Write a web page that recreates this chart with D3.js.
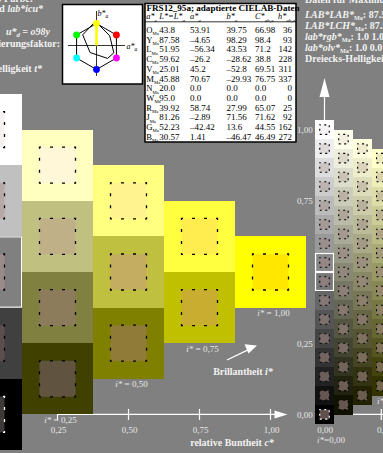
<!DOCTYPE html>
<html><head><meta charset="utf-8">
<script src="https://cdn.jsdelivr.net/npm/d3@7/dist/d3.min.js"></script>
<style>
html,body{margin:0;padding:0;background:#808080;overflow:hidden}
svg{display:block}
text{font-family:"Liberation Serif","Times New Roman",serif}
</style></head><body>
<svg id="chart" width="383" height="453"></svg>
<script>
// ---- chart data ----
const chromaTicks = [0.25, 0.5, 0.75, 1.0];
const chromaTickLabels = ["0,25", "0,50", "0,75", "1,00"];
const brillLabels = ["0,25", "0,50", "0,75", "1,00"];
const lightTicks = [0, 0.25, 0.75, 1.0];
const lightTickLabels = ["0,00", "0,25", "0,75", "1,00"];
const smallTicks = [0, 0.2];
const smallTickLabels = ["0,00", "0,20"];

// 5-step triangle, one array per chroma column, light to dark
const cellColors = [
  ["#ffffff", "#c0c0c0", "#808080", "#404040", "#000000"],
  ["#ffffc0", "#c0c080", "#808040", "#404000"],
  ["#ffff80", "#c0c040", "#808000"],
  ["#ffff40", "#c0c000"],
  ["#ffff00"]
];
const innerColors = [
  ["#f6f2f2", "#b8a8a8", "#9a8a8a", "#5c4e4e", "#3e3a3a"],
  ["#fff7d8", "#c0b088", "#8c7c5c", "#605440"],
  ["#fff390", "#c4ad60", "#907c38"],
  ["#ffed50", "#c8ad30"],
  ["#ffe700"]
];

// adapted CIELAB table
const tableTitle = "FRS12_95a; adaptierte CIELAB-Daten";
const tableNames = ["O", "Y", "L", "C", "V", "M", "N", "W", "R", "J", "G", "B"];
const tableL = [43.8, 87.58, 51.95, 59.62, 25.01, 45.88, 20.0, 95.0, 39.92, 81.26, 52.23, 30.57];
const tableA = [53.91, -4.65, -56.34, -26.2, 45.2, 70.67, 0, 0, 58.74, -2.89, -42.42, 1.41];
const tableB = [39.75, 98.29, 43.53, -28.62, -52.8, -29.93, 0, 0, 27.99, 71.56, 13.6, -46.47];
const tableC = [66.98, 98.4, 71.2, 38.8, 69.51, 76.75, 0, 0, 65.07, 71.62, 44.55, 46.49];
const tableH = [36, 93, 142, 228, 311, 337, 0, 0, 25, 92, 162, 272];

// hue circle icon
const iconAngles = [90, 30, -30, -90, 210, 150];
const iconColors = ["#ffff00", "#ff0000", "#ff00ff", "#0000ff", "#00ffff", "#00ff00"];

const svg = d3.select("#chart");
const TXT = "#f2f2f2";

function rich(sel, parts, size, subScale) {
  let shifted = 0;
  parts.forEach(p => {
    const ts = sel.append("tspan").text(p.t);
    if (p.i) ts.attr("font-style", "italic");
    if (p.b) ts.attr("font-weight", "bold");
    if (p.sub) { ts.attr("font-size", size * (subScale || 0.68)).attr("dy", 2.3 - shifted); shifted = 2.3; }
    else if (shifted) { ts.attr("dy", -shifted); shifted = 0; }
  });
  return sel;
}
function label(x, y, parts, size, anchor, fill, weight, subScale) {
  const t = svg.append("text").attr("x", x).attr("y", y)
    .attr("font-size", size).attr("fill", fill || TXT)
    .attr("text-anchor", anchor || "start")
    .attr("font-weight", weight || "normal");
  return rich(t, parts, size, subScale);
}

// ---- scales ----
const xMain = d3.scaleLinear().domain([0, 1]).range([-13.5, 270.5]);
const yT = d3.scaleLinear().domain([0, 1]).range([414.4, 129.6]);
const xSmall = d3.scaleLinear().domain([0, 1]).range([324.5, 324.5 + 15 * 18.93]);
const cw = xMain(0.25) - xMain(0);
const ch = yT(0) - yT(0.25);
const sw = xSmall(1 / 15) - xSmall(0);
const sh = yT(0) - yT(1 / 15);

// ---- axes beneath the cells ----
const y0 = yT(0);
const axisG = svg.append("g").attr("stroke", "#ffffff").attr("stroke-width", 1.2);
axisG.append("line").attr("x1", xMain(0.25)).attr("x2", xMain(1) + 6).attr("y1", y0).attr("y2", y0);
chromaTicks.forEach(v => axisG.append("line").attr("x1", xMain(v)).attr("x2", xMain(v)).attr("y1", y0 - 5.5).attr("y2", y0 + 5.5));
svg.append("path").attr("fill", "#ffffff")
  .attr("d", `M${xMain(1) + 4},${y0 - 4}L${xMain(1) + 17},${y0}L${xMain(1) + 4},${y0 + 4}Z`);
axisG.append("line").attr("x1", xSmall(0)).attr("x2", 400).attr("y1", y0).attr("y2", y0);
smallTicks.filter(v => v > 0).forEach(v => axisG.append("line").attr("x1", xSmall(v)).attr("x2", xSmall(v)).attr("y1", y0 - 5.5).attr("y2", y0 + 5.5));

// ---- main triangle ----
const gMain = svg.append("g");
cellColors.forEach((col, c) => col.forEach((fill, k) => {
  const cx = xMain(c / 4), cy = yT(1 - (k + c / 2) / 4);
  gMain.append("rect").attr("x", cx - cw / 2).attr("y", cy - ch / 2)
    .attr("width", cw).attr("height", ch).attr("fill", fill)
    .attr("shape-rendering", "crispEdges");
  const s = 36;
  gMain.append("rect").attr("x", cx - s / 2).attr("y", cy - s / 2)
    .attr("width", s).attr("height", s).attr("fill", innerColors[c][k])
    .attr("stroke", fill === "#000000" ? "#ffffff" : "#000000")
    .attr("stroke-width", 1.3).attr("stroke-dasharray", "3,9").attr("stroke-dashoffset", 1.5);
  if (fill === "#808080") {
    gMain.append("rect").attr("x", cx - cw / 2 + 0.5).attr("y", cy - ch / 2 + 0.5)
      .attr("width", cw - 1).attr("height", ch - 1).attr("fill", "none")
      .attr("stroke", "#ffffff").attr("stroke-width", 1);
  }
}));

// ---- 16-step triangle ----
const pinkGrey = d3.rgb(158, 134, 130);
const gSmall = svg.append("g");
for (let c = 0; c <= 4; c++) {
  for (let k = 0; k <= 15 - c; k++) {
    const v = 1 - k / 15, b = 1 - (k + c) / 15;
    const fill = d3.rgb(255 * v, 255 * v, 255 * b);
    const lum = (fill.r + fill.g + fill.b) / 765;
    const inner = d3.interpolateRgb(fill, pinkGrey)(0.6 - 0.5 * Math.pow(lum, 3));
    const cx = xSmall(c / 15), cy = yT(1 - (k + c / 2) / 15);
    gSmall.append("rect").attr("x", cx - sw / 2).attr("y", cy - sh / 2)
      .attr("width", sw + 0.3).attr("height", sh + 0.3).attr("fill", fill)
      .attr("shape-rendering", "crispEdges");
    gSmall.append("rect").attr("x", cx - 4.75).attr("y", cy - 4.75)
      .attr("width", 9.5).attr("height", 9.5).attr("fill", inner)
      .attr("stroke", (v === 0 && b === 0) ? "#ffffff" : "#000000")
      .attr("stroke-width", 1.1).attr("stroke-dasharray", "2,3.5").attr("stroke-dashoffset", 1);
    if (c === 0 && (k === 7 || k === 8)) {
      gSmall.append("rect").attr("x", cx - sw / 2 + 0.5).attr("y", cy - sh / 2 + 0.5)
        .attr("width", sw - 1).attr("height", sh - 1).attr("fill", "none")
        .attr("stroke", "#ffffff").attr("stroke-width", 1.2);
    }
  }
}

// vertical lightness arrow above the 16-step triangle
const ax = xSmall(0);
svg.append("line").attr("x1", ax).attr("x2", ax).attr("y1", yT(1) - sh / 2).attr("y2", 96)
  .attr("stroke", "#ffffff").attr("stroke-width", 1.2);
svg.append("path").attr("fill", "#ffffff").attr("d", `M${ax - 5},97L${ax},78L${ax + 5},97Z`);

// ---- axis labels ----
chromaTickLabels.forEach((t, i) => label(xMain(chromaTicks[i]) + 1, 432.5, [{ t }], 9, "middle", "#e6e6e6"));
brillLabels.forEach((num, i) => {
  const c = i + 1;
  const bottom = yT(1 - (4 - c + c / 2) / 4) + ch / 2;
  label(xMain(c / 4) + 3, bottom + 8.6, [{ t: "i*", i: true }, { t: " = " + num }], 9, "middle", "#e6e6e6");
});
lightTickLabels.forEach((t, i) => label(297, yT(lightTicks[i]) + 3.3, [{ t }], 9, "start", "#e6e6e6"));
smallTickLabels.forEach((t, i) => label(xSmall(smallTicks[i]) + (i ? 3.5 : 0.5), 432.5, [{ t }], 9, "middle", "#e6e6e6"));
label(331, 443, [{ t: "i*", i: true }, { t: "=0,00" }], 9, "middle", "#e6e6e6");
label(377, 404, [{ t: "i*", i: true }, { t: "=0,20" }], 9, "start", "#e6e6e6");

label(232, 446, [{ t: "relative Buntheit " }, { t: "c*", i: true }], 10, "middle", TXT, "bold");
label(243, 374.5, [{ t: "Brillantheit " }, { t: "i*", i: true }], 10, "middle", TXT, "bold");
svg.append("line").attr("x1", 227).attr("y1", 360).attr("x2", 249).attr("y2", 349.4)
  .attr("stroke", "#ffffff").attr("stroke-width", 1.3);
svg.append("path").attr("fill", "#ffffff").attr("d", "M244.5,344.2L257,345.5L248.5,353.4Z");

// ---- header text, left ----
label(33, 2, [{ t: "Ausgangs-Farbe:" }], 10, "end", TXT, "bold");
label(43, 11.5, [{ t: "Standard und " }, { t: "lab*icu*", i: true }], 10, "end", TXT, "bold");
label(50, 35, [{ t: "u*", i: true }, { t: "d", i: true, sub: true }, { t: " = o98y", i: true }], 10, "end", TXT, "bold");
label(60, 46.5, [{ t: "Normierungsfaktor:" }], 10, "end", TXT, "bold");
label(42, 71.5, [{ t: "Dreiecks-Helligkeit " }, { t: "t*", i: true }], 10, "end", TXT, "bold");

// ---- header text, right ----
label(305, 3, [{ t: "Daten für Maximum-Farbe:" }], 10, "start", TXT, "bold");
const rightLines = [
  [{ t: "LAB*LAB*", i: true }, { t: "Ma", sub: true }, { t: ": 87.58 –4.65 98.29" }],
  [{ t: "LAB*LCH*", i: true }, { t: "Ma", sub: true }, { t: ": 87.58 98.4 93" }],
  [{ t: "lab*rgb*", i: true }, { t: "Ma", sub: true }, { t: ": 1.0 1.0 0.0" }],
  [{ t: "lab*olv*", i: true }, { t: "Ma", sub: true }, { t: ": 1.0 0.0 0.0" }],
  [{ t: "Dreiecks-Helligkeit " }, { t: "t*", i: true }, { t: "Ma", sub: true }, { t: ": 1.0" }]
];
rightLines.forEach((p, i) => label(305, 17.5 + i * 11.2, p, 10, "start", TXT, "bold", 0.62));

// ---- hue icon ----
svg.append("rect").attr("x", 62.5).attr("y", 4.5).attr("width", 80).attr("height", 79.5)
  .attr("fill", "#ffffff").attr("stroke", "#000000").attr("stroke-width", 1.5);
const icx = 96.5, icy = 45.5;
const ab = d3.scaleLinear().domain([-100, 100]).range([-24.5, 24.5]);
svg.append("line").attr("x1", 68).attr("x2", 125).attr("y1", icy).attr("y2", icy).attr("stroke", "#333").attr("stroke-width", 1);
svg.append("line").attr("x1", icx).attr("x2", icx).attr("y1", 11).attr("y2", 76).attr("stroke", "#333").attr("stroke-width", 1);
const hexPts = iconAngles.map(a => [icx + 23 * Math.cos(a * Math.PI / 180), icy + 1 - 23 * Math.sin(a * Math.PI / 180)]);
svg.append("line").attr("x1", icx).attr("y1", icy).attr("x2", hexPts[0][0]).attr("y2", hexPts[0][1])
  .attr("stroke", "#ffff00").attr("stroke-width", 2.6);
svg.append("path").attr("d", d3.line()(hexPts) + "Z").attr("fill", "none").attr("stroke", "#000").attr("stroke-width", 1);
const dataPts = [0, 1, 2, 3, 4, 5].map(i => [icx + ab(tableA[i]), icy - ab(tableB[i])]);
svg.append("path").attr("d", d3.line()(dataPts) + "Z").attr("fill", "none").attr("stroke", "#000").attr("stroke-width", 1);
hexPts.forEach((p, i) => svg.append("circle").attr("cx", p[0]).attr("cy", p[1]).attr("r", 3.4).attr("fill", iconColors[i]));
label(97.5, 16, [{ t: "b*", i: true }, { t: "a", sub: true, i: true }], 8, "start", "#000");
label(126.5, 48.5, [{ t: "a*", i: true }, { t: "a", sub: true, i: true }], 8, "start", "#000");

// ---- data table ----
svg.append("rect").attr("x", 145).attr("y", 3.5).attr("width", 151).attr("height", 138.5)
  .attr("fill", "#ffffff").attr("stroke", "#000000").attr("stroke-width", 1.5);
label(146.5, 10.8, [{ t: tableTitle }], 9.1, "start", "#000", "bold");
const colX = [146.3, 159.3, 190, 226.5, 255, 292];
const heads = [
  [{ t: "a*", i: true }, { t: "e", sub: true, i: true }],
  [{ t: "L*=L*", i: true }, { t: "a", sub: true, i: true }],
  [{ t: "a*", i: true }, { t: "a", sub: true, i: true }],
  [{ t: "b*", i: true }, { t: "a", sub: true, i: true }],
  [{ t: "C*", i: true }, { t: "ab,a", sub: true, i: true }],
  [{ t: "h*", i: true }, { t: "ab,a", sub: true, i: true }]
];
heads.forEach((h, i) => label(i === 5 ? 278 : colX[i], 19.3, h, 8.3, "start", "#000", "normal", 0.6));
svg.append("line").attr("x1", 145).attr("x2", 296).attr("y1", 21.8).attr("y2", 21.8).attr("stroke", "#000").attr("stroke-width", 0.8);
const fmt = v => (Number.isInteger(v) ? v.toFixed(1) : String(v)).replace("-", "–");
tableNames.forEach((n, r) => {
  const y = 33 + r * 9.7;
  label(colX[0], y, [{ t: n }, { t: "Ma", sub: true }], 8.6, "start", "#000", "normal", 0.55);
  label(colX[1], y, [{ t: fmt(tableL[r]) }], 9, "start", "#000");
  label(colX[2], y, [{ t: fmt(tableA[r]) }], 9, "start", "#000");
  label(colX[3], y, [{ t: fmt(tableB[r]) }], 9, "start", "#000");
  label(colX[4], y, [{ t: fmt(tableC[r]) }], 9, "start", "#000");
  label(colX[5], y, [{ t: String(tableH[r]) }], 9, "end", "#000");
});
</script>
</body></html>
